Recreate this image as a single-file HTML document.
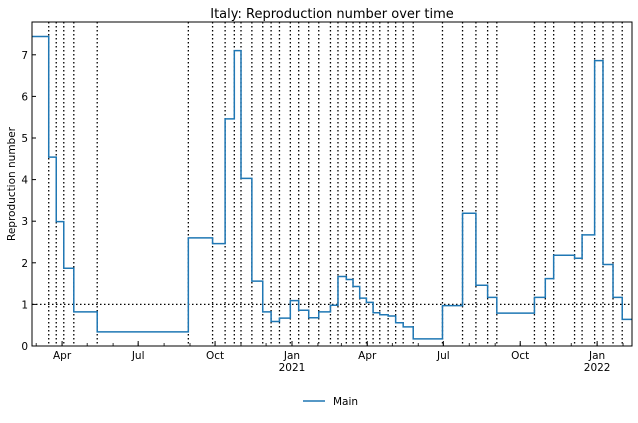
<!DOCTYPE html>
<html><head><meta charset="utf-8"><style>
body{margin:0;background:#fff;font-family:"Liberation Sans","DejaVu Sans",sans-serif;}
svg text{font-family:"DejaVu Sans","Liberation Sans",sans-serif;}
</style></head><body>
<svg id="c" width="638" height="418" viewBox="0 0 638 418" xmlns="http://www.w3.org/2000/svg">
<text x="332" y="18" text-anchor="middle" font-size="13" fill="#000">Italy: Reproduction number over time</text>
<text transform="translate(15,184) rotate(-90)" text-anchor="middle" font-size="10.5" fill="#000">Reproduction number</text>
<g id="plot"></g>
<rect x="32" y="22" width="600" height="324" fill="none" stroke="#000" stroke-width="1"/>
<g>
<line x1="303" y1="401" x2="325" y2="401" stroke="#1f77b4" stroke-width="1.5"/>
<text x="333" y="405" font-size="10.5">Main</text>
</g>
</svg>
<script>
// day offsets from 2020-02-25 where R changes, and R values per segment
const breakDays=[0,20,29,38,50,78,187,216,231,242,250,263,276,286,296,309,319,331,343,357,366,376,384,392,400,408,416,426,435,444,456,491,515,531,545,556,601,614,624,649,658,673,683,695,706,718];
const rValues=[7.44,4.54,2.99,1.87,0.82,0.34,2.6,2.46,5.46,7.1,4.03,1.56,0.82,0.59,0.67,1.09,0.86,0.68,0.82,0.98,1.67,1.6,1.43,1.15,1.05,0.8,0.75,0.72,0.56,0.46,0.17,0.97,3.19,1.46,1.17,0.79,1.17,1.62,2.18,2.11,2.67,6.86,1.96,1.17,0.64];
const yTicks=[0,1,2,3,4,5,6,7];
const xLabels=[["2020-04-01","Apr",""],["2020-07-01","Jul",""],["2020-10-01","Oct",""],["2021-01-01","Jan","2021"],["2021-04-01","Apr",""],["2021-07-01","Jul",""],["2021-10-01","Oct",""],["2022-01-01","Jan","2022"]];
const ns="http://www.w3.org/2000/svg";
const t0=Date.UTC(2020,1,25);
const X0=32,PPD=0.836,Y0=346,PPU=41.6;
const xd=d=>X0+d*PPD;
const xdate=s=>xd((Date.parse(s+"T00:00:00Z")-t0)/86400000);
const y=v=>Y0-v*PPU;
const g=document.getElementById('plot');
function mk(tag,a){const e=document.createElementNS(ns,tag);for(const k in a)e.setAttribute(k,a[k]);g.appendChild(e);return e;}
// y ticks
yTicks.forEach(v=>{
 const l=mk('line',{x1:32,x2:36,y1:y(v),y2:y(v),stroke:'#000'});
 
 
 const t=mk('text',{x:28,y:y(v)+4,'text-anchor':'end','font-size':'10.5'});
 t.textContent=v;
 
 
});
// minor monthly ticks
for(let m=2;m<26;m++){
 const yr=2020+Math.floor(m/12),mo=m%12;
 const d=(Date.UTC(yr,mo,1)-t0)/86400000;
 const xx=xd(d); if(xx<32||xx>632)continue;
 const l=mk('line',{x1:xx,x2:xx,y1:346,y2:343,stroke:'#000','stroke-width':0.8});
 
 
}
xLabels.forEach(([d,lab,yr])=>{
 const xx=xdate(d);
 const l=mk('line',{x1:xx,x2:xx,y1:346,y2:341,stroke:'#000'});
 
 
 const t=mk('text',{x:xx,y:359,'text-anchor':'middle','font-size':'10.5'});
 t.textContent=lab;
 
 
 if(yr){const t2=mk('text',{x:xx,y:371,'text-anchor':'middle','font-size':'10.5'});t2.textContent=yr;
 
 }
});
// vertical dotted changepoint lines
for(let i=1;i<breakDays.length-1;i++){
 const xx=xd(breakDays[i]);
 const l=mk('line',{x1:xx,x2:xx,y1:22,y2:346,stroke:'#000','stroke-width':1.3,'stroke-dasharray':'1.5,2.5'});
 
 
}
// R=1 reference line
const rl=mk('line',{x1:32,x2:632,y1:y(1),y2:y(1),stroke:'#000','stroke-width':1.3,'stroke-dasharray':'1.5,2.5'});


// step line
let p='';
for(let i=0;i<rValues.length;i++){
 const a=xd(breakDays[i]),b=xd(breakDays[i+1]),yy=y(rValues[i]);
 p+=(i===0?'M':'L')+a+','+yy+'L'+b+','+yy;
}
const path=mk('path',{d:p,fill:'none',stroke:'#1f77b4','stroke-width':1.5});


</script>
</body></html>
